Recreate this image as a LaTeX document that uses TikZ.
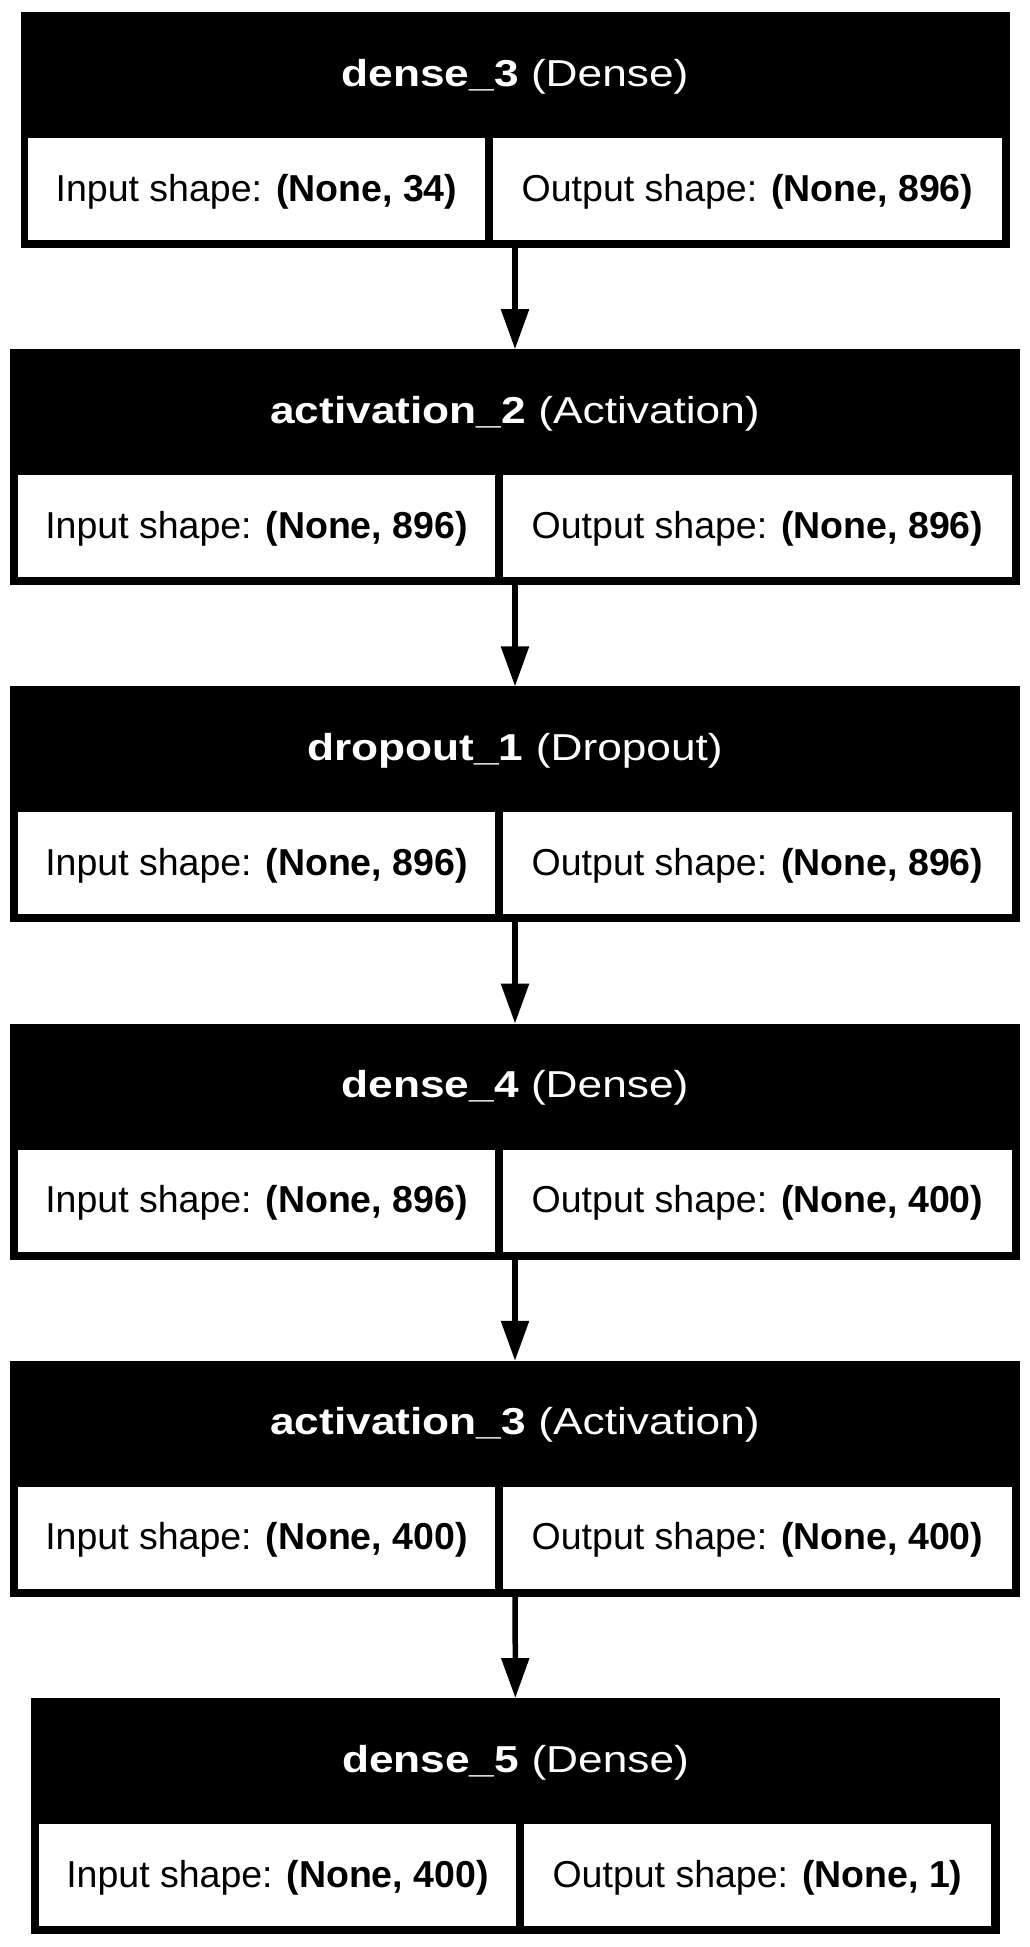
\documentclass[tikz,border=0pt]{standalone}
\usepackage{fontspec}
\setmainfont{Liberation Sans}
\newfontfamily\headfont[FakeStretch=1.18]{Liberation Sans}
\usepackage{tikz}
\usetikzlibrary{arrows.meta}

\begin{document}
\begin{tikzpicture}[x=1pt,y=-1pt,
    layer/.style={rectangle,fill=black,draw=none,inner sep=0,outer sep=0,minimum height=236pt},
    layertitle/.style={anchor=base,text=white,inner sep=0,font=\headfont\fontsize{37.5}{45}\selectfont},
    cell/.style={rectangle,fill=white,inner sep=0,outer sep=0,minimum height=102pt,
        text height=30pt,text depth=6pt,font=\fontsize{37.5}{45}\selectfont},
    flow/.style={-{Triangle[length=40pt,width=27pt]},line width=5.5pt}]
    \useasboundingbox (0,0) rectangle (1030,1947);
    % layers
    \node[layer,minimum width=989pt] (dense3) at (515,130) {};
    \node[layer,minimum width=1010pt] (activation2) at (515,467.2) {};
    \node[layer,minimum width=1010pt] (dropout1) at (515,804.4) {};
    \node[layer,minimum width=1010pt] (dense4) at (515,1141.6) {};
    \node[layer,minimum width=1010pt] (activation3) at (515,1478.8) {};
    \node[layer,minimum width=969pt] (dense5) at (515.5,1816) {};
    % titles
    \node[layertitle] (dense3title) at (515,86) {\textbf{dense\_3} (Dense)};
    \node[layertitle] (activation2title) at (515,423.2) {\textbf{activation\_2} (Activation)};
    \node[layertitle] (dropout1title) at (515,760.4) {\textbf{dropout\_1} (Dropout)};
    \node[layertitle] (dense4title) at (515,1097.6) {\textbf{dense\_4} (Dense)};
    \node[layertitle] (activation3title) at (515,1434.8) {\textbf{activation\_3} (Activation)};
    \node[layertitle] (dense5title) at (515.5,1772) {\textbf{dense\_5} (Dense)};
    % shapes
    \node[cell,minimum width=457pt] (dense3in) at (256.5,189) {Input shape: \textbf{(None, 34)}};
    \node[cell,minimum width=509pt] (dense3out) at (747.5,189) {Output shape: \textbf{(None, 896)}};
    \node[cell,minimum width=477pt] (activation2in) at (256.5,526.2) {Input shape: \textbf{(None, 896)}};
    \node[cell,minimum width=509pt] (activation2out) at (757.5,526.2) {Output shape: \textbf{(None, 896)}};
    \node[cell,minimum width=477pt] (dropout1in) at (256.5,863.4) {Input shape: \textbf{(None, 896)}};
    \node[cell,minimum width=509pt] (dropout1out) at (757.5,863.4) {Output shape: \textbf{(None, 896)}};
    \node[cell,minimum width=477pt] (dense4in) at (256.5,1200.6) {Input shape: \textbf{(None, 896)}};
    \node[cell,minimum width=509pt] (dense4out) at (757.5,1200.6) {Output shape: \textbf{(None, 400)}};
    \node[cell,minimum width=477pt] (activation3in) at (256.5,1537.8) {Input shape: \textbf{(None, 400)}};
    \node[cell,minimum width=509pt] (activation3out) at (757.5,1537.8) {Output shape: \textbf{(None, 400)}};
    \node[cell,minimum width=477pt] (dense5in) at (277.5,1875) {Input shape: \textbf{(None, 400)}};
    \node[cell,minimum width=467pt] (dense5out) at (757.5,1875) {Output shape: \textbf{(None, 1)}};
    % arrows
    \draw[flow] (dense3) to (activation2);
    \draw[flow] (activation2) to (dropout1);
    \draw[flow] (dropout1) to (dense4);
    \draw[flow] (dense4) to (activation3);
    \draw[flow] (activation3) to (dense5);
\end{tikzpicture}
\end{document}
